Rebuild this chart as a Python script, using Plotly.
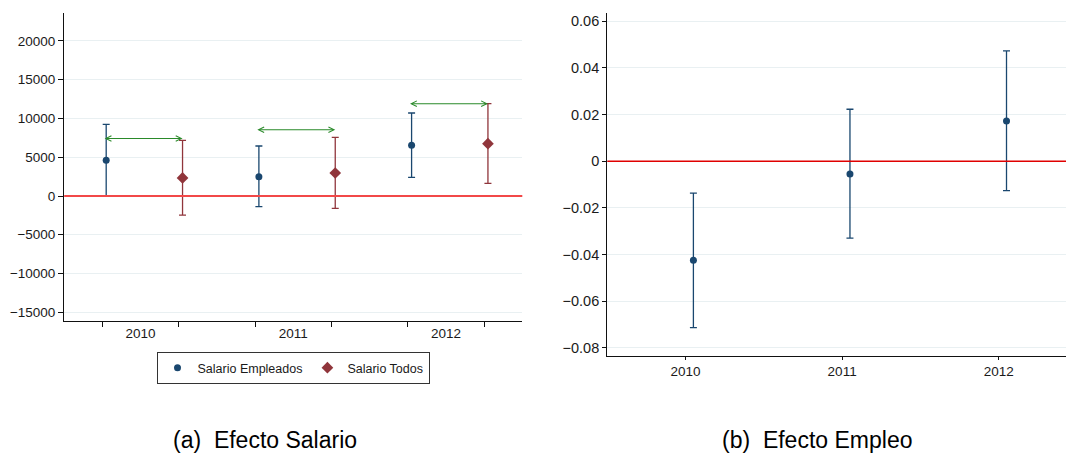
import plotly.graph_objects as go

# ---------------- data ----------------
years = [2010, 2011, 2012]

# Panel (a): Efecto Salario
sal_emp = [4620, 2495, 6540]
sal_emp_lo = [0, -1380, 2410]
sal_emp_hi = [9230, 6450, 10710]

sal_all = [2330, 2970, 6750]
sal_all_lo = [-2460, -1590, 1630]
sal_all_hi = [7170, 7570, 11910]

arrow_y = [7420, 8550, 11910]

# Panel (b): Efecto Empleo
emp = [-0.0424, -0.0054, 0.0173]
emp_lo = [-0.0713, -0.0329, -0.0126]
emp_hi = [-0.0136, 0.0223, 0.0473]

left_yticks = [-15000, -10000, -5000, 0, 5000, 10000, 15000, 20000]
left_yticktext = ["\u221215000", "\u221210000", "\u22125000", "0", "5000", "10000", "15000", "20000"]
right_yticks = [-0.08, -0.06, -0.04, -0.02, 0, 0.02, 0.04, 0.06]
right_yticktext = ["\u22120.08", "\u22120.06", "\u22120.04", "\u22120.02", "0", "0.02", "0.04", "0.06"]

caption_a = "(a)\u00a0\u00a0Efecto Salario"
caption_b = "(b)\u00a0\u00a0Efecto Empleo"
legend_names = ["Salario Empleados", "Salario Todos"]
ref_value = 0

# ---------------- style ----------------
BLUE = "#1a476f"
RED = "#90353b"
GREEN = "#2a8a2a"
GRID = "#e9f0f2"
FONT = "Liberation Sans, Arial, sans-serif"
TXT = "#1a1a1a"
off = 0.05

blue_x = [2 * i + 1 + off for i in range(len(years))]
red_x = [2 * i + 2 + off for i in range(len(years))]
mid_x = [2 * i + 1.5 for i in range(len(years))]
emp_x = [y + off for y in years]

fig = go.Figure()

fig.add_trace(go.Scatter(
    x=blue_x, y=sal_emp, mode="markers", name=legend_names[0],
    marker=dict(symbol="circle", size=7, color=BLUE),
    error_y=dict(type="data", symmetric=False,
                 array=[h - p for h, p in zip(sal_emp_hi, sal_emp)],
                 arrayminus=[p - l for p, l in zip(sal_emp, sal_emp_lo)],
                 color=BLUE, thickness=1.3, width=3.5),
    xaxis="x", yaxis="y", showlegend=True))

fig.add_trace(go.Scatter(
    x=red_x, y=sal_all, mode="markers", name=legend_names[1],
    marker=dict(symbol="diamond", size=9, color=RED),
    error_y=dict(type="data", symmetric=False,
                 array=[h - p for h, p in zip(sal_all_hi, sal_all)],
                 arrayminus=[p - l for p, l in zip(sal_all, sal_all_lo)],
                 color=RED, thickness=1.3, width=3.5),
    xaxis="x", yaxis="y", showlegend=True))

fig.add_trace(go.Scatter(
    x=emp_x, y=emp, mode="markers", name="Empleo",
    marker=dict(symbol="circle", size=7, color=BLUE),
    error_y=dict(type="data", symmetric=False,
                 array=[h - p for h, p in zip(emp_hi, emp)],
                 arrayminus=[p - l for p, l in zip(emp, emp_lo)],
                 color=BLUE, thickness=1.3, width=3.5),
    xaxis="x2", yaxis="y2", showlegend=False))

annotations = []
for bx, rx, ay in zip(blue_x, red_x, arrow_y):
    annotations.append(dict(
        x=rx, y=ay, ax=bx - 0.04, ay=ay, xref="x", yref="y", axref="x", ayref="y",
        text="", showarrow=True, arrowside="end+start", arrowhead=5, startarrowhead=5,
        arrowsize=1, startarrowsize=1, arrowwidth=1.1, arrowcolor=GREEN,
        standoff=0, startstandoff=0))

cap_y = (454 - 439.5) / 454
annotations.append(dict(x=265 / 1066, y=cap_y, xref="paper", yref="paper",
                        text=caption_a, showarrow=False, xanchor="center", yanchor="middle",
                        font=dict(family=FONT, size=23, color="#000")))
annotations.append(dict(x=817 / 1066, y=cap_y, xref="paper", yref="paper",
                        text=caption_b, showarrow=False, xanchor="center", yanchor="middle",
                        font=dict(family=FONT, size=23, color="#000")))

shapes = [
    dict(type="line", xref="x domain", yref="y", x0=0, x1=1, y0=ref_value, y1=ref_value,
         line=dict(color="#f24848", width=1.8), layer="above"),
    dict(type="line", xref="x2 domain", yref="y2", x0=0, x1=1, y0=ref_value, y1=ref_value,
         line=dict(color="#e00000", width=1.4), layer="above"),
]

axis_common = dict(showline=True, linecolor="#111", linewidth=1.3, zeroline=False,
                   tickcolor="#111", tickfont=dict(family=FONT, size=13.5, color=TXT))

fig.update_layout(
    width=1066, height=454, margin=dict(l=0, r=0, t=0, b=0),
    paper_bgcolor="white", plot_bgcolor="white",
    font=dict(family=FONT, color=TXT),
    xaxis=dict(domain=[64.2 / 1066, 522.3 / 1066], range=[0.5, 6.5], anchor="y",
               tickmode="array", tickvals=mid_x, ticktext=[str(y) for y in years],
               ticks="", showgrid=False,
               minor=dict(ticks="outside", ticklen=5, tickcolor="#111", tick0=1, dtick=1,
                          showgrid=False),
               **axis_common),
    yaxis=dict(domain=[(454 - 321) / 454, (454 - 13.3) / 454], range=[-16125, 23569],
               anchor="x", tickmode="array", tickvals=left_yticks, ticktext=left_yticktext,
               ticks="outside", ticklen=5, showgrid=True, gridcolor=GRID, gridwidth=1,
               **axis_common),
    xaxis2=dict(domain=[607.3 / 1066, 1.0], range=[2009.5, 2012.43], anchor="y2",
                tickmode="array", tickvals=years, ticktext=[str(y) for y in years],
                ticks="outside", ticklen=3, showgrid=False, **axis_common),
    yaxis2=dict(domain=[(454 - 356) / 454, (454 - 13.3) / 454], range=[-0.08345, 0.06343],
                anchor="x2", tickmode="array", tickvals=right_yticks, ticktext=right_yticktext,
                ticks="outside", ticklen=4, showgrid=True, gridcolor=GRID, gridwidth=1,
                showline=True, linecolor="#111", linewidth=1.3, zeroline=False, tickcolor="#111",
                tickfont=dict(family=FONT, size=14.5, color=TXT)),
    legend=dict(orientation="h", x=293 / 1066, xanchor="center", y=(454 - 352) / 454,
                yanchor="top", bordercolor="#333", borderwidth=1, bgcolor="white",
                font=dict(family=FONT, size=12.5, color=TXT), itemwidth=30,
                tracegroupgap=0),
    annotations=annotations, shapes=shapes,
)

fig.write_html("out.html")
